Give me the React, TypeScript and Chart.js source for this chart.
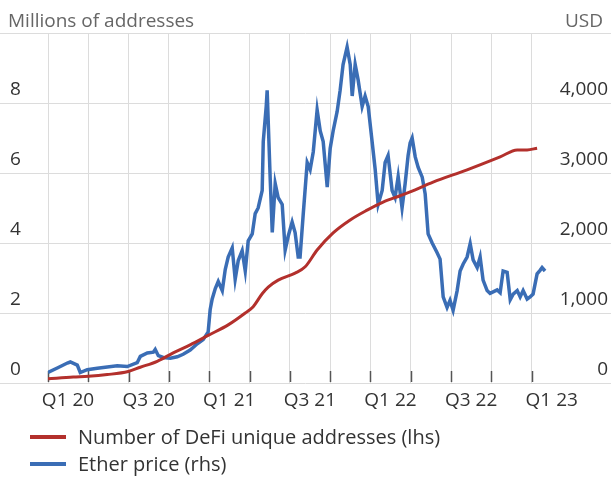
import React, { useEffect, useRef } from 'react';
import { Chart, registerables } from 'chart.js';

Chart.register(...registerables);

// x values: months elapsed since 1 Jan 2020
const quarterStarts = [0, 3, 6, 9, 12, 15, 18, 21, 24, 27, 30, 33, 36];
const quarterLabels = ['Q1 20', 'Q3 20', 'Q1 21', 'Q3 21', 'Q1 22', 'Q3 22', 'Q1 23'];

const leftTickValues = [0, 2, 4, 6, 8, 10];

// Number of DeFi unique addresses (millions, lhs)
const addrMonths = [0, 1.88, 3.0, 4.41, 5.97, 6.87, 8.13, 9.32, 10.58, 11.92, 13.41, 14.68, 15.27, 15.94, 16.39, 17.13, 18.39, 19.14, 20.03, 21.22, 22.49, 23.75, 24.94, 26.2, 26.95, 28.66, 31.19, 33.65, 34.92, 35.66, 36.4];
const addrValues = [0.12, 0.17, 0.19, 0.24, 0.33, 0.45, 0.62, 0.86, 1.09, 1.36, 1.66, 2.0, 2.18, 2.55, 2.74, 2.94, 3.14, 3.32, 3.8, 4.29, 4.66, 4.94, 5.17, 5.35, 5.46, 5.74, 6.09, 6.46, 6.66, 6.66, 6.71];

// Ether price (USD, rhs)
const etherMonths = [0, 0.69, 1.44, 1.66, 2.18, 2.4, 2.92, 3.67, 4.41, 5.15, 5.9, 6.64, 6.87, 7.39, 7.84, 7.98, 8.21, 8.58, 9.1, 9.62, 10.06, 10.58, 11.11, 11.55, 11.92,
  12.07, 12.22, 12.45, 12.67, 12.97, 13.19, 13.41, 13.71, 13.93, 14.16, 14.45, 14.68, 14.9, 15.2, 15.42, 15.64, 15.94, 16.02, 16.24, 16.31, 16.54, 16.69, 16.91, 17.13, 17.43, 17.65, 17.88, 18.17, 18.39, 18.62, 18.76, 18.99, 19.29,
  19.51, 19.74, 20.03, 20.26, 20.48, 20.78, 21.0, 21.22, 21.52, 21.74, 21.96, 22.26, 22.49, 22.64, 22.86, 23.08, 23.38, 23.6, 23.83, 24.12, 24.35, 24.57, 24.87, 25.09, 25.31, 25.61, 25.83, 26.06, 26.35, 26.58, 26.8, 26.95, 27.1,
  27.33, 27.55, 27.85, 28.07, 28.29, 28.59, 28.96, 29.18, 29.41, 29.7, 29.92, 30.15, 30.45, 30.67, 30.9, 31.19, 31.42, 31.64, 31.94, 32.16, 32.38, 32.68, 32.9, 33.43, 33.65, 33.87, 34.17, 34.4, 34.62, 34.92, 35.14, 35.36, 35.66, 35.88, 36.1, 36.4, 36.62, 36.77, 36.99];
const etherPrice = [150, 215, 285, 300, 255, 150, 190, 210, 230, 245, 235, 290, 380, 430, 440, 480, 390, 365, 355, 375, 410, 470, 560, 620, 730,
  1050, 1200, 1350, 1450, 1320, 1620, 1800, 1930, 1480, 1750, 1890, 1600, 2030, 2130, 2420, 2500, 2750, 3450, 3950, 4180, 2900, 2150, 2850, 2650, 2550, 1900, 2100, 2300, 2150, 1800, 1800, 2400, 3150,
  3050, 3300, 3900, 3600, 3450, 2800, 3350, 3600, 3880, 4180, 4550, 4800, 4550, 4100, 4550, 4330, 3950, 4100, 3950, 3450, 3050, 2550, 2750, 3150, 3250, 2750, 2650, 2950, 2500, 2850, 3250, 3430, 3500,
  3230, 3080, 2940, 2700, 2130, 2000, 1860, 1770, 1230, 1080, 1180, 1040, 1320, 1600, 1700, 1800, 1990, 1760, 1650, 1800, 1470, 1320, 1280, 1330, 1290, 1600, 1580, 1190, 1270, 1320, 1230, 1320, 1200, 1230, 1270, 1560, 1610, 1650, 1600];

const RED = '#b3302c';
const BLUE = '#3a6db5';
const GRID = '#dcdcdc';
const FONT = "'Open Sans', sans-serif";

const framePlugin = {
  id: 'frame',
  beforeDatasetsDraw(chart: any) {
    const { ctx, scales, chartArea, width } = chart;
    ctx.save();
    ctx.strokeStyle = GRID;
    ctx.lineWidth = 1;
    for (const v of leftTickValues) {
      const y = Math.round(scales.y.getPixelForValue(v)) + 0.5;
      ctx.beginPath();
      ctx.moveTo(0, y);
      ctx.lineTo(width, y);
      ctx.stroke();
    }
    ctx.strokeStyle = '#555';
    ctx.lineWidth = 1.5;
    for (const q of quarterStarts) {
      const x = Math.round(scales.x.getPixelForValue(q)) + 0.5;
      ctx.beginPath();
      ctx.moveTo(x, chartArea.bottom - 12);
      ctx.lineTo(x, chartArea.bottom - 1);
      ctx.stroke();
    }
    ctx.restore();
  },
};

export default function App() {
  const ref = useRef<HTMLCanvasElement>(null);

  useEffect(() => {
    if (!ref.current) return;
    const chart = new Chart(ref.current, {
      type: 'line',
      data: {
        datasets: [
          {
            label: 'Number of DeFi unique addresses (lhs)',
            data: addrMonths.map((m, i) => ({ x: m, y: addrValues[i] })),
            borderColor: RED,
            borderWidth: 3,
            pointRadius: 0,
            cubicInterpolationMode: 'monotone',
            yAxisID: 'y',
          },
          {
            label: 'Ether price (rhs)',
            data: etherMonths.map((m, i) => ({ x: m, y: etherPrice[i] })),
            borderColor: BLUE,
            borderWidth: 3.5,
            pointRadius: 0,
            tension: 0,
            yAxisID: 'y1',
          },
        ],
      },
      options: {
        animation: false,
        responsive: false,
        layout: { padding: { left: 10, right: 3, top: 33, bottom: 0 } },
        plugins: { legend: { display: false }, tooltip: { enabled: false } },
        scales: {
          x: {
            type: 'linear',
            min: 0,
            max: 38,
            afterBuildTicks: (s: any) => {
              s.ticks = quarterStarts.map((v) => ({ value: v }));
            },
            afterFit: (s: any) => {
              s.height = 94;
              s.paddingLeft = 0;
              s.paddingRight = 0;
            },
            grid: { color: GRID, drawTicks: false },
            border: { display: false },
            ticks: {
              autoSkip: false,
              maxRotation: 0,
              padding: 6,
              labelOffset: 20,
              color: '#333',
              font: { family: FONT, size: 19 },
              callback: (v: any) => (v % 6 === 0 ? quarterLabels[v / 6] : ''),
            },
          },
          y: {
            position: 'left',
            min: 0,
            max: 10,
            grid: { display: false },
            border: { display: false },
            afterFit: (s: any) => {
              s.width = 38;
              s.paddingTop = 0;
              s.paddingBottom = 0;
            },
            ticks: {
              stepSize: 2,
              crossAlign: 'far',
              labelOffset: -13,
              color: '#333',
              font: { family: FONT, size: 19 },
              callback: (v: any) => (v === 10 ? '' : String(v)),
            },
          },
          y1: {
            position: 'right',
            min: 0,
            max: 5000,
            grid: { display: false },
            border: { display: false },
            afterFit: (s: any) => {
              s.width = 49.4;
              s.paddingTop = 0;
              s.paddingBottom = 0;
            },
            ticks: {
              stepSize: 1000,
              crossAlign: 'far',
              labelOffset: -13,
              color: '#333',
              font: { family: FONT, size: 19 },
              callback: (v: any) => (v === 5000 ? '' : Number(v).toLocaleString('en-US')),
            },
          },
        },
      } as any,
      plugins: [framePlugin],
    });
    return () => chart.destroy();
  }, []);

  const textStyle: React.CSSProperties = {
    position: 'absolute',
    fontFamily: FONT,
    fontSize: 19,
    lineHeight: '22px',
    whiteSpace: 'nowrap',
  };

  return (
    <div style={{ position: 'fixed', left: 0, top: 0, width: 611, height: 477, background: '#fff' }}>
      <canvas ref={ref} width={611} height={477} style={{ position: 'absolute', left: 0, top: 0 }} />
      <div style={{ ...textStyle, left: 8, top: 9, color: '#666' }}>Millions of addresses</div>
      <div style={{ ...textStyle, right: 8, top: 9, color: '#666' }}>USD</div>
      <div style={{ ...textStyle, fontSize: 20, left: 30, top: 426, color: '#333', display: 'flex', alignItems: 'center' }}>
        <span style={{ display: 'inline-block', width: 36, height: 4, background: RED, marginRight: 12 }} />
        Number of DeFi unique addresses (lhs)
      </div>
      <div style={{ ...textStyle, fontSize: 20, left: 30, top: 453, color: '#333', display: 'flex', alignItems: 'center' }}>
        <span style={{ display: 'inline-block', width: 36, height: 4, background: BLUE, marginRight: 12 }} />
        Ether price (rhs)
      </div>
    </div>
  );
}
